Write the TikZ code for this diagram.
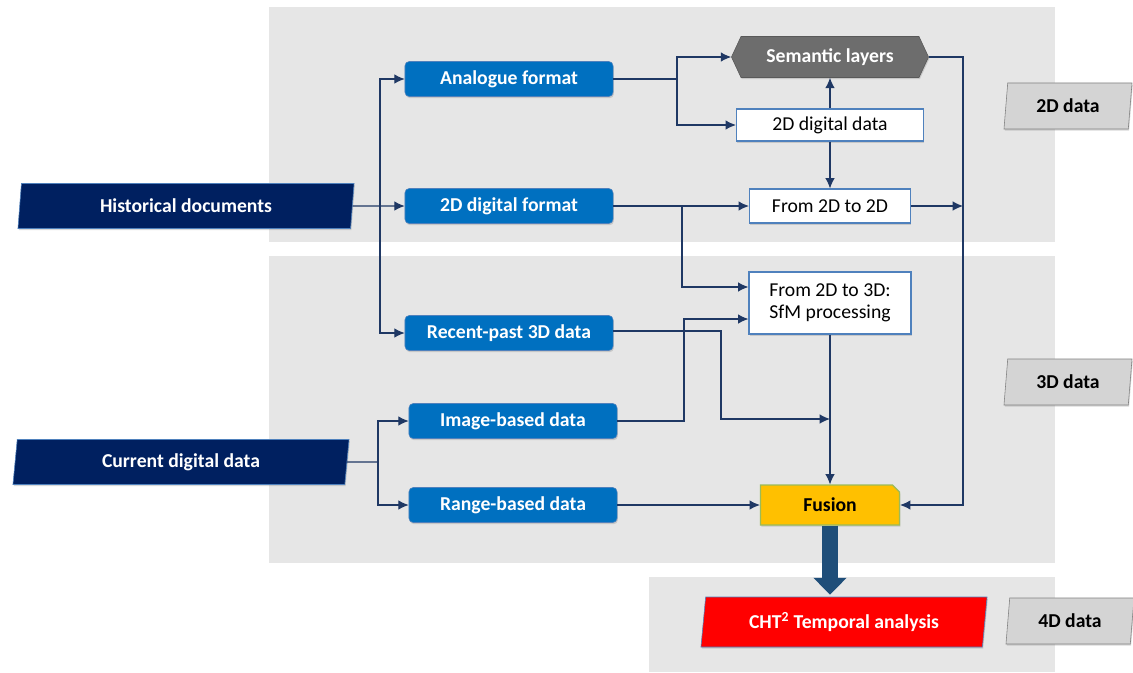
\documentclass[tikz,border=0pt]{standalone}
\usepackage{fontspec}
\setmainfont{Carlito}
\usepackage{tikz}
\usetikzlibrary{arrows.meta, shapes.geometric, shapes.misc, shapes.symbols, shadows}

\definecolor{navyfill}{HTML}{002060}
\definecolor{boxblue}{HTML}{0070C0}
\definecolor{edgeblue}{HTML}{4F81BD}
\definecolor{linkcol}{HTML}{1F3864}
\definecolor{panelgray}{HTML}{E6E6E6}
\definecolor{semgray}{HTML}{6D6D6D}
\definecolor{fusionfill}{HTML}{FFC000}
\definecolor{fusionedge}{HTML}{9BBB59}
\definecolor{chtred}{HTML}{FF0000}
\definecolor{labelgray}{HTML}{D4D4D4}
\definecolor{bigblue}{HTML}{1F4E79}

\begin{document}
\begin{tikzpicture}[x=0.025cm, y=-0.025cm,
        font=\fontsize{14}{16}\selectfont,
        >={Latex[length=2.6mm, width=2.4mm]},
        link/.style={draw=linkcol, line width=0.8pt},
        shade/.style={drop shadow={opacity=0.3, shadow xshift=0.6pt, shadow yshift=-1.2pt}},
        slanted/.style={trapezium, trapezium left angle=#1, trapezium right angle=180-#1,
            trapezium stretches body, inner sep=0pt, shade},
        srcbox/.style={slanted=76, draw=edgeblue, fill=navyfill, text=white,
            font=\fontsize{14}{16}\selectfont\bfseries, minimum width=8.4cm, minimum height=1.125cm},
        databox/.style={rectangle, rounded corners=3pt, draw=edgeblue, fill=boxblue, text=white,
            font=\fontsize{14}{16}\selectfont\bfseries, minimum width=5.2cm, minimum height=0.875cm, shade},
        stepbox/.style={rectangle, draw=edgeblue, line width=0.8pt, fill=white, align=center, shade},
        dimbox/.style={slanted=75, draw=gray, fill=labelgray, font=\fontsize{14}{16}\selectfont\bfseries,
            minimum width=3.2cm, minimum height=1.15cm}
    ]
    \useasboundingbox (0,0) rectangle (1133,672);

    % background panels
    \fill[panelgray] (269,7) rectangle (1055,242);   % 2D
    \fill[panelgray] (269,256) rectangle (1055,563); % 3D
    \fill[panelgray] (649,577) rectangle (1055,672); % 4D

    % sources
    \node[srcbox] (hist) at (186,206) {Historical documents};
    \node[srcbox] (current) at (181,462) {Current digital data};

    % data formats
    \node[databox] (analog) at (509,79) {Analogue format};
    \node[databox] (fmt2d) at (509,206) {2D digital format};
    \node[databox] (recent) at (509,333) {Recent-past 3D data};
    \node[databox] (image) at (513,421) {Image-based data};
    \node[databox] (range) at (513,505) {Range-based data};

    % processing steps
    \node[signal, signal to=west and east, signal pointer angle=130, draw=gray!70!black, fill=semgray,
        text=white, font=\fontsize{14}{16}\selectfont\bfseries, minimum width=4.925cm, minimum height=1.025cm,
        inner sep=0pt, shade] (sem) at (830,57) {Semantic layers};
    \node[stepbox, minimum width=4.675cm, minimum height=0.8cm] (dig2d) at (830,125) {2D digital data};
    \node[stepbox, minimum width=4.025cm, minimum height=0.85cm] (to2d) at (830,206) {From 2D to 2D};
    \node[stepbox, minimum width=4.05cm, minimum height=1.55cm] (to3d) at (830,303) {From 2D to 3D:\\SfM processing};
    \node[chamfered rectangle, chamfered rectangle corners=north east, chamfered rectangle xsep=2.5pt,
        chamfered rectangle ysep=2.5pt, draw=fusionedge, line width=0.8pt, fill=fusionfill,
        font=\fontsize{14}{16}\selectfont\bfseries, minimum width=3.475cm, minimum height=1cm,
        inner sep=0pt, shade] (fusion) at (830,505) {Fusion};

    % output
    \node[slanted=76.5, draw=edgeblue, fill=chtred, text=white, font=\fontsize{14}{16}\selectfont\bfseries,
        minimum width=7.15cm, minimum height=1.25cm] (cht) at (844,622) {CHT\textsuperscript{2} Temporal analysis};

    % dimension labels
    \node[dimbox] (lab2d) at (1068,106) {2D data};
    \node[dimbox] (lab3d) at (1068,382) {3D data};
    \node[dimbox] (lab4d) at (1070,621) {4D data};

    % branch points
    \coordinate (hsplit) at (380,206);
    \coordinate (asplit) at (677,79);
    \coordinate (fsplit) at (682,206);
    \coordinate (rbend) at (963,505);
    \coordinate (ibend) at (684,421);
    \coordinate (rpbend) at (721,331);
    \coordinate (rpend) at (830,419);
    \coordinate (csplit) at (378,462);

    % arrows
    \draw[link, ->] (hist.east) -- (fmt2d.west);
    \draw[link, ->] (hsplit) |- (analog.west);
    \draw[link, ->] (hsplit) |- (recent.west);
    \draw[link] (analog.east) -- (asplit);
    \draw[link, ->] (asplit) |- (sem.west);
    \draw[link, ->] (asplit) |- (dig2d.west);
    \draw[link, ->] (dig2d.north) -- (sem.south);
    \draw[link, ->] (dig2d.south) -- (to2d.north);
    \draw[link, ->] (fmt2d.east) -- (to2d.west);
    \draw[link, ->] (fsplit) |- ([yshift=0.4cm]to3d.west);
    \draw[link, ->] (to2d.east) -- (to2d.east -| rbend);
    \draw[link, ->] (sem.east) -| (rbend) -- (fusion.east);
    \draw[link, ->] (image.east) -- (ibend) |- ([yshift=-0.4cm]to3d.west);
    \draw[link, ->] (recent.east |- rpbend) -- (rpbend) |- (rpend);
    \draw[link, ->] (to3d.south) -- (fusion.north);
    \draw[link] (current.east) -- (csplit);
    \draw[link, ->] (csplit) |- (image.west);
    \draw[link, ->] (csplit) |- (range.west);
    \draw[link, ->] (range.east) -- (fusion.west);

    \draw[bigblue, line width=0.4cm, -{Triangle[length=0.42cm, width=0.8cm]}] (fusion.south) -- ([yshift=0.05cm]fusion.south |- cht.north); % to temporal analysis
\end{tikzpicture}
\end{document}
